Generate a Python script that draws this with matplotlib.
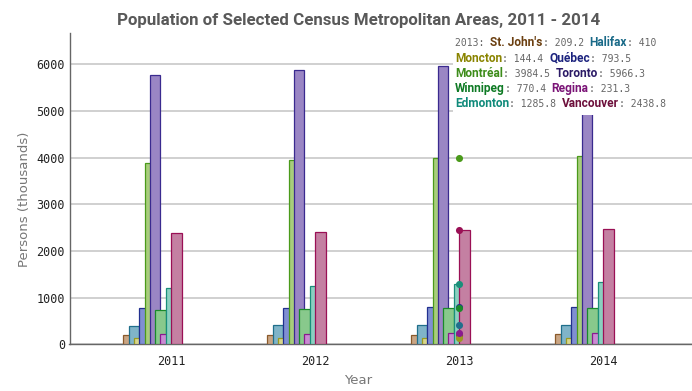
import matplotlib
matplotlib.use("Agg")
import matplotlib.pyplot as plt
from matplotlib.patches import Rectangle
from matplotlib.transforms import IdentityTransform

# data
years = ["2011", "2012", "2013", "2014"]
st_johns = [200, 205, 209.2, 212]
halifax = [402, 406, 410, 414]
moncton = [138, 141, 144.4, 145]
quebec = [771, 784, 793.5, 799]
montreal = [3882, 3940, 3984.5, 4026]
toronto = [5769, 5867, 5966.3, 6055]
winnipeg = [741, 749, 770.4, 777]
regina = [214, 224, 231.3, 237]
edmonton = [1199, 1242, 1285.8, 1328]
vancouver = [2377, 2405, 2438.8, 2469]

cities = ["St. John's", "Halifax", "Moncton", "Québec", "Montréal",
          "Toronto", "Winnipeg", "Regina", "Edmonton", "Vancouver"]
values = [st_johns, halifax, moncton, quebec, montreal,
          toronto, winnipeg, regina, edmonton, vancouver]

fills = ["#c9a584", "#80b4c8", "#d8d68c", "#808fd2", "#a8cd7c",
         "#9a86c4", "#88c98c", "#c98bd2", "#8bd0c0", "#c480a2"]
edges = ["#8b5a2b", "#1f6f8b", "#9a9a20", "#22308f", "#4a9a1a",
         "#3a2a8f", "#1a8a2a", "#8a1a8f", "#1a8f7a", "#9a1055"]
name_colors = ["#6b3f10", "#1a6a88", "#8a8400", "#1c237e", "#3d8c1a",
               "#2b1a66", "#0e7a24", "#7b1477", "#0f8a7a", "#6d0f3b"]

fig = plt.figure(figsize=(6.92, 3.91), dpi=100)
ax = fig.add_axes([69.5 / 692, 1 - 344.3 / 391, 1 - 69.5 / 692, (344.3 - 33) / 391])

w = 10.6 / 144
for i, (name, vals) in enumerate(zip(cities, values)):
    xs = [k + (i - 9) * w / 2 for k in range(len(years))]
    ax.bar(xs, vals, width=w, align="edge", color=fills[i], edgecolor=edges[i],
           linewidth=0.9, zorder=3 + i * 0.1)

# hover dots at 2013
sel = 2
for i, vals in enumerate(values):
    ax.scatter([sel], [vals[sel]], s=26, color=edges[i], zorder=5, linewidths=0)

ax.set_xlim(-0.705, 3.618)
ax.set_ylim(0, 6666)
ax.set_xticks(range(len(years)))
ax.set_xticklabels(years)
ax.set_yticks(range(0, 7000, 1000))
ax.tick_params(axis="both", length=0, labelsize=8.5, labelcolor="#222222")
ax.tick_params(axis="y", pad=3.2)
ax.tick_params(axis="x", pad=8)
for lab in ax.get_xticklabels() + ax.get_yticklabels():
    lab.set_fontfamily("DejaVu Sans Mono")
ax.grid(axis="y", color="#c4c4c4", linewidth=1.1, zorder=0)
ax.set_axisbelow(True)
for s in ["top", "right"]:
    ax.spines[s].set_visible(False)
for s in ["left", "bottom"]:
    ax.spines[s].set_color("#666666")
    ax.spines[s].set_linewidth(1.0)

ax.set_ylabel("Persons (thousands)", fontsize=9.5, color="#777777")
ax.yaxis.set_label_coords((25 - 69.5) / (692 - 69.5), (344.3 - 199.5) / (344.3 - 33))
ax.set_xlabel("Year", fontsize=9.5, color="#777777")
ax.xaxis.set_label_coords((358 - 69.5) / (692 - 69.5), -(381 - 344.3) / (344.3 - 33))
ax.xaxis.label.set_va("center")
ax.yaxis.label.set_va("center")

fig.text(359 / 692, 1 - 20 / 391, "Population of Selected Census Metropolitan Areas, 2011 - 2014",
         ha="center", va="center", fontsize=12.2, fontweight="bold", color="#595959",
         family="Roboto")

# tooltip box
fig.patches.append(Rectangle((453, 391 - 115), 240, 82, transform=IdentityTransform(),
                             facecolor="white", edgecolor="none", zorder=10))

fig.canvas.draw()
r = fig.canvas.get_renderer()
rows = [[0, 1], [2, 3], [4, 5], [6, 7], [8, 9]]
y0 = 46.5
for n, row in enumerate(rows):
    x = 455.0
    y = 391 - (y0 + n * 15.2)
    pieces = []
    if n == 0:
        pieces.append((years[sel] + ": ", "mono", "#666666"))
    for j, i in enumerate(row):
        pieces.append((cities[i], "name", name_colors[i]))
        v = values[i][sel]
        vs = ("%g" % v)
        pieces.append((": " + vs + (" " if j == 0 else ""), "mono", "#666666"))
    for s, kind, c in pieces:
        if kind == "mono":
            t = fig.text(x, y, s, transform=IdentityTransform(), fontsize=7.0,
                         family="DejaVu Sans Mono", color=c, va="baseline", zorder=11)
        else:
            t = fig.text(x, y, s, transform=IdentityTransform(), fontsize=8.6,
                         family="Roboto", fontweight="bold", color=c, va="baseline", zorder=11)
        bb = t.get_window_extent(r)
        x = bb.x1

fig.savefig("out.png", dpi=100)
